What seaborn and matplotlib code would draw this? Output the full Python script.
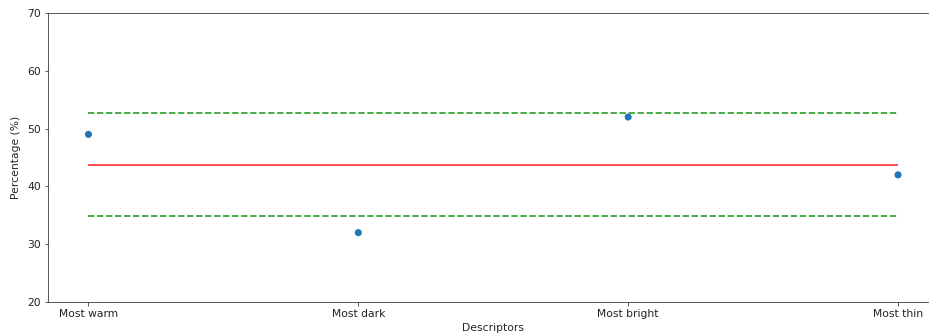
import numpy as np
import pandas as pd
import matplotlib
matplotlib.use("Agg")
import matplotlib.pyplot as plt
import seaborn as sns

descriptors = ["Most warm", "Most dark", "Most bright", "Most thin"]
percentages = [49, 32, 52, 42]

sns.set_style("white")
plt.rcParams["font.family"] = ["DejaVu Sans"]

df = pd.DataFrame({"Descriptors": descriptors, "Percentage": percentages})
mean = np.mean(percentages)
sd = np.std(percentages, ddof=1)

dpi = 72
fig = plt.figure(figsize=(929 / dpi, 335 / dpi), dpi=dpi)
ax = fig.add_axes([48 / 929, 33 / 335, (938.5 - 48) / 929, (302 - 13) / 335])

x = np.arange(len(descriptors))
ax.hlines(mean, x[0], x[-1], colors="red", alpha=0.8, linewidth=1.7)
ax.hlines([mean + sd, mean - sd], x[0], x[-1], colors="tab:green",
          linestyles="--", linewidth=1.7)
sns.scatterplot(data=df, x="Descriptors", y="Percentage", ax=ax,
                color="tab:blue", s=50, edgecolor="none", zorder=3)

ax.set_xlim(-0.15, 3.15)
ax.set_ylim(20, 70)
ax.set_yticks(range(20, 71, 10))
ax.set_xlabel("Descriptors", fontsize=10.7)
ax.set_ylabel("Percentage (%)", fontsize=10.7, labelpad=6)
ax.tick_params(axis="both", labelsize=10.7, length=3.5, width=0.8,
               direction="out", bottom=True, left=True, colors="#333333",
               labelcolor="#222222")
for side in ["left", "bottom", "top", "right"]:
    ax.spines[side].set_color("#333333")
    ax.spines[side].set_linewidth(0.8)

fig.savefig("out.png", dpi=dpi)
